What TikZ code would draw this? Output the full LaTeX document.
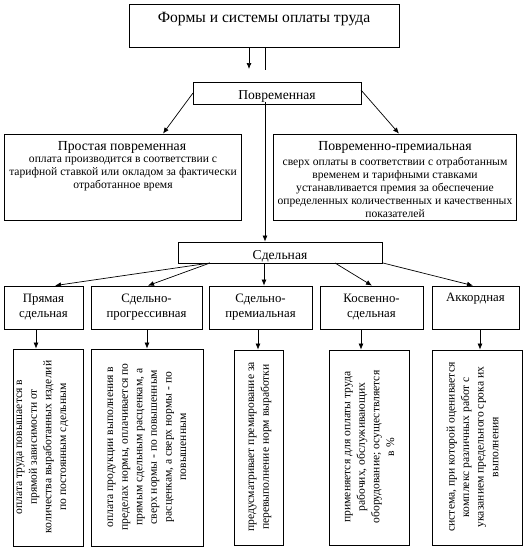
\documentclass[tikz,border=0pt]{standalone}
\usepackage{fontspec}
\setmainfont{Liberation Serif}
\usetikzlibrary{arrows.meta}
\tikzset{
  box/.style={draw, line width=0.8pt, fill=white, inner sep=0pt},
  conn/.style={line width=0.7pt},
  arr/.style={line width=0.7pt, -{Latex[length=6pt,width=5pt]}},
  txt/.style={inner sep=0pt, align=center},
  small/.style={inner sep=0pt, align=center, anchor=north, font=\fontsize{11.6}{13.1}\selectfont},
  head/.style={inner sep=0pt, align=center, font=\fontsize{13.8}{15}\selectfont},
  lvl/.style={inner sep=0pt, align=center, font=\fontsize{12.8}{15}\selectfont},
  rtxt/.style={inner sep=0pt, align=center, rotate=90, font=\fontsize{11.6}{14.6}\selectfont},
}
\newcommand\mkbox[5]{\node[box, minimum width={(#4-#2)*1pt}, minimum height={(#5-#3)*1pt}] (#1) at ({(#2+#4)/2},{(#3+#5)/2}) {};}
\begin{document}
\begin{tikzpicture}[x=1pt,y=-1pt]
\useasboundingbox (0,0) rectangle (525,550);
% boxes
\mkbox{top}{129}{4}{399}{47}
\mkbox{pov}{193}{82}{361}{104}
\mkbox{prost}{4}{134}{241}{220}
\mkbox{povprem}{273}{134}{516}{220}
\mkbox{sd}{178}{242}{382}{263}
\mkbox{l1}{4}{286}{83}{329}
\mkbox{l2}{91}{286}{202}{329}
\mkbox{l3}{209}{286}{312}{329}
\mkbox{l4}{320}{286}{423}{329}
\mkbox{l5}{432}{286}{519}{329}
\mkbox{b1}{13}{349}{83}{546}
\mkbox{b2}{91}{349}{203}{546}
\mkbox{b3}{234}{350}{283}{545}
\mkbox{b4}{329}{350}{409}{545}
\mkbox{b5}{432}{350}{522}{545}
% texts
\node[txt, font=\fontsize{15.6}{18}\selectfont] (ttop) at (264,19) {Формы и системы оплаты труда};
\node[txt, font=\fontsize{13.6}{15}\selectfont] (tpov) at (277,96) {Повременная};
\node[head] (tprost) at (122,147) {Простая повременная};
\node[small] (tprost2) at (123,157) {оплата производится в соответствии с\\тарифной ставкой или окладом за фактически\\отработанное время};
\node[head] (tpp) at (395,147) {Повременно-премиальная};
\node[small] (tpp2) at (395,157) {сверх оплаты в соответствии с отработанным\\временем и тарифными ставками\\устанавливается премия за обеспечение\\определенных количественных и качественных\\показателей};
\node[txt, font=\fontsize{13.6}{15}\selectfont] (tsd) at (280,256) {Сдельная};
\node[lvl] (tl1) at (43.5,307) {Прямая\\сдельная};
\node[lvl] (tl2) at (146.5,307) {Сдельно-\\прогрессивная};
\node[lvl] (tl3) at (260.5,307) {Сдельно-\\премиальная};
\node[lvl] (tl4) at (371.5,307) {Косвенно-\\сдельная};
\node[lvl] (tl5) at (475.5,299) {Аккордная};
\node[rtxt] (tb1) at (42.5,447) {оплата труда повышается в\\прямой зависимости от\\количества выработанных изделий\\по постоянным сдельным};
\node[rtxt] (tb2) at (147,447) {оплата продукции выполнения в\\пределах нормы, оплачивается по\\прямым сдельным расценкам, а\\сверх нормы - по повышенным\\расценкам, а сверх нормы - по\\повышенным};
\node[rtxt] (tb3) at (260,447) {предусматривает премирование за\\перевыполнение норм выработки};
\node[rtxt] (tb4) at (369.5,447) {применяется для оплаты труда\\рабочих, обслуживающих\\оборудование; осуществляется\\в \%};
\node[rtxt] (tb5) at (472.5,447) {система, при которой оценивается\\комплекс различных работ с\\указанием предельного срока их\\выполнения};
% connectors
\coordinate (a1) at (249,69);
\coordinate (a2) at (265,70);
\coordinate (a3) at (265,102);
\coordinate (p1) at (193,93);
\coordinate (p2) at (361,90);
\draw[arr] (top.south -| a1) -- (a1);
\draw[conn] (top.south -| a2) -- (a2);
\draw[arr] (a3) -- (sd.north -| a3);
\draw[arr] (p1) -- (prost.north -| 163,0);
\draw[arr] (p2) -- (povprem.north -| 399,0);
\coordinate (s1) at (210,263);
\coordinate (s4) at (335,263);
\coordinate (s5) at (383,263);
\draw[arr] (s1) -- (l1.north -| 55,0);
\draw[arr] (s1) -- (l2.north -| 148,0);
\draw[arr] (sd.south -| 264,0) -- (l3.north -| 264,0);
\draw[arr] (s4) -- (l4.north -| 372,0);
\draw[arr] (s5) -- (l5.north -| 473,0);
\draw[arr] (l1.south -| 36,0) -- (b1.north -| 36,0);
\draw[arr] (l2.south -| 147,0) -- (b2.north -| 147,0);
\draw[arr] (l3.south -| 258,0) -- (b3.north -| 258,0);
\draw[arr] (l4.south -| 361,0) -- (b4.north -| 361,0);
\draw[arr] (l5.south -| 480,0) -- (b5.north -| 480,0);
\end{tikzpicture}
\end{document}
